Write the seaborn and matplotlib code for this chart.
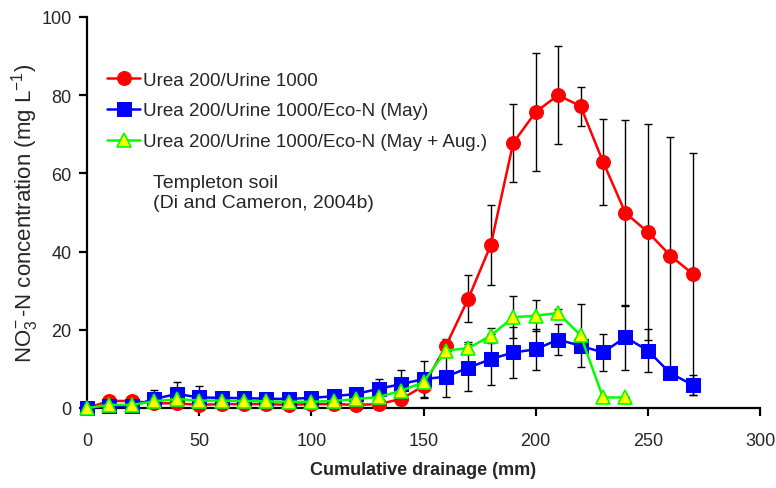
import numpy as np
import pandas as pd
import seaborn as sns
import matplotlib.pyplot as plt

# Cumulative drainage (mm)
drain = [0, 10, 20, 30, 40, 50, 60, 70, 80, 90, 100, 110, 120, 130,
         140, 150, 160, 170, 180, 190, 200, 210, 220, 230, 240, 250, 260, 270]

# NO3-N concentrations (mg/L)
urea_urine = [0, 1.8, 1.8, 1.2, 1.2, 0.8, 1.0, 1.0, 1.0, 0.8, 1.0, 1.0, 0.8, 1.0,
              2.3, 5.6, 15.9, 28.0, 41.7, 67.8, 75.7, 80.0, 77.2, 63.0, 49.9, 45.0, 39.0, 34.3]
urea_urine_err = [0, 0.3, 0.3, 0.5, 0.5, 0.5, 0.5, 0.5, 0.5, 0.5, 0.5, 0.5, 0.5, 0.8,
                  1.5, 3.0, 1.8, 6.0, 10.2, 10.0, 15.0, 12.5, 5.0, 11.0, 23.7, 27.6, 30.4, 31.0]

eco_may = [0, 0.5, 0.5, 2.3, 3.6, 2.7, 2.6, 2.5, 2.4, 2.3, 2.6, 3.0, 3.6, 4.9,
           6.1, 7.4, 8.0, 10.3, 12.5, 14.2, 15.0, 17.5, 15.9, 14.2, 18.1, 14.7, 8.9, 5.9]
eco_may_err = [0, 0.3, 0.3, 2.4, 3.1, 3.0, 1.5, 1.0, 1.0, 1.0, 1.0, 1.0, 1.0, 2.5,
               3.7, 4.6, 5.3, 6.0, 6.5, 6.4, 5.3, 4.0, 1.5, 4.7, 8.3, 5.6, 1.0, 2.5]

drain_aug = drain[:25]
eco_aug = [0, 0.8, 0.8, 1.7, 2.3, 1.9, 1.9, 1.8, 1.7, 1.6, 1.6, 1.8, 2.3, 2.8,
           4.4, 6.6, 14.7, 15.3, 18.5, 23.2, 23.6, 24.3, 18.6, 2.7, 2.7]
eco_aug_err = [0, 0.3, 0.3, 0.5, 0.5, 0.5, 0.5, 0.5, 0.5, 0.5, 0.5, 0.5, 0.5, 0.5,
               1.0, 2.0, 1.5, 1.5, 2.0, 5.4, 4.0, 1.0, 8.0, 0, 0]

labels = ["Urea 200/Urine 1000",
          "Urea 200/Urine 1000/Eco-N (May)",
          "Urea 200/Urine 1000/Eco-N (May + Aug.)"]

sns.set_style("ticks")
plt.rcParams["font.family"] = ["Liberation Sans", "DejaVu Sans"]
plt.rcParams["mathtext.fontset"] = "custom"
plt.rcParams["mathtext.rm"] = "Liberation Sans"
plt.rcParams["mathtext.it"] = "Liberation Sans:italic"

fig = plt.figure(figsize=(7.76, 4.89), dpi=100)
ax = fig.add_axes([87 / 776, 80 / 489, 673 / 776, 391 / 489])

series = [
    (drain, urea_urine, urea_urine_err, dict(color="#ff0000", marker="o", markersize=10,
                                             markerfacecolor="#ff0000", markeredgecolor="#ff0000")),
    (drain, eco_may, eco_may_err, dict(color="#0000ff", marker="s", markersize=9.5,
                                       markerfacecolor="#0000ff", markeredgecolor="#0000ff")),
    (drain_aug, eco_aug, eco_aug_err, dict(color="#00ff00", marker="^", markersize=10,
                                           markerfacecolor="#ffff00", markeredgecolor="#00ff00",
                                           markeredgewidth=1.2)),
]

# error bars first so the markers sit on top
for xs, ys, es, _ in series:
    ax.errorbar(xs, ys, yerr=es, fmt="none", ecolor="black", elinewidth=1,
                capsize=3, capthick=1, zorder=1, clip_on=False)

for (xs, ys, es, style), lab in zip(series, labels):
    df = pd.DataFrame({"x": xs, "y": ys})
    sns.lineplot(data=df, x="x", y="y", ax=ax, label=lab, linewidth=1.8,
                 clip_on=False, zorder=3, **style)

ax.set_xlim(0, 300)
ax.set_ylim(0, 100)
ax.set_xticks(np.arange(0, 301, 50))
ax.set_yticks(np.arange(0, 101, 20))
sns.despine(ax=ax)
for sp in ["left", "bottom"]:
    ax.spines[sp].set_linewidth(1.6)
    ax.spines[sp].set_color("black")
ax.tick_params(axis="both", direction="out", length=6, width=1.6, color="black",
               labelsize=13)
ax.tick_params(axis="x", pad=11)
ax.tick_params(axis="y", pad=5)

ax.set_xlabel("Cumulative drainage (mm)", fontsize=13, fontweight="bold", labelpad=9)
ax.set_ylabel(r"NO$_3^{\!-}$-N concentration (mg L$^{-1}$)", fontsize=16, labelpad=0)

ax.text(29.4, 59.8, "Templeton soil\n(Di and Cameron, 2004b)", fontsize=14,
        ha="left", va="top", linespacing=1.25)

ax.legend(loc="upper left", bbox_to_anchor=(0.03, 0.86), frameon=False,
          fontsize=13.5, handlelength=1.76, handletextpad=0.15, labelspacing=0.72,
          borderpad=0, borderaxespad=0)

fig.savefig("out.png", dpi=100)
